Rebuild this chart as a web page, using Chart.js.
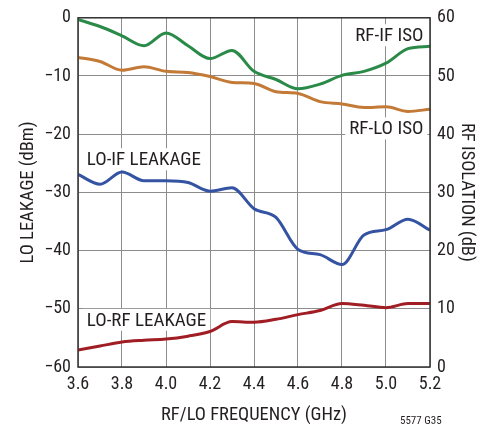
<!DOCTYPE html>
<html>
<head>
<meta charset="utf-8">
<script src="https://cdn.jsdelivr.net/npm/chart.js@4.4.1/dist/chart.umd.min.js"></script>
<style>
html,body{margin:0;padding:0;background:#fff;}
#wrap{width:498px;height:429px;position:relative;}
</style>
</head>
<body>
<div id="wrap"><canvas id="c" width="498" height="429"></canvas></div>
<script>
// Data (frequency in GHz)
const freqGHz = [3.6,3.7,3.8,3.9,4.0,4.1,4.2,4.3,4.4,4.5,4.6,4.7,4.8,4.9,5.0,5.1,5.2];
// RF isolation (dB), right axis
const rfIfIso = [59.7,58.5,56.9,55.2,57.4,55.2,53.0,54.4,50.8,49.4,47.8,48.6,50.1,50.8,52.2,54.7,55.1];
const rfLoIso = [53.2,52.5,51.0,51.6,50.8,50.6,49.9,48.9,48.7,47.3,47.0,45.6,45.2,44.6,44.7,43.9,44.3];
// LO leakage (dBm), left axis
const loIfLeak = [-26.9,-28.6,-26.5,-28.0,-28.0,-28.3,-29.8,-29.2,-32.8,-34.3,-39.8,-40.7,-42.4,-37.3,-36.4,-34.6,-36.5];
const loRfLeak = [-57.1,-56.4,-55.7,-55.4,-55.2,-54.7,-53.9,-52.2,-52.3,-51.8,-51.0,-50.3,-49.1,-49.4,-49.8,-49.1,-49.1];
const leftTicks = [-60,-50,-40,-30,-20,-10,0];
const rightTicks = [0,10,20,30,40,50,60];
const xTicks = [3.6,3.8,4.0,4.2,4.4,4.6,4.8,5.0,5.2];

const FONT = "'Liberation Sans Narrow','Roboto Condensed','DejaVu Sans Condensed','Liberation Sans',Arial,sans-serif";
const TXT = '#231f20';
const GRID = '#8c8c8c';

function pts(ys){ return freqGHz.map((f,i)=>({x:f,y:ys[i]})); }

const labelPlugin = {
  id:'labels',
  beforeDatasetsDraw(chart){
    const ctx = chart.ctx;
    const xs = chart.scales.x, yl = chart.scales.yL, yr = chart.scales.yR;
    const items = [
      {t:'RF-IF ISO', x:xs.getPixelForValue(5.17), y:yr.getPixelForValue(57.0), align:'right'},
      {t:'RF-LO ISO', x:xs.getPixelForValue(5.17), y:yl.getPixelForValue(-19.0), align:'right'},
      {t:'LO-IF LEAKAGE', x:xs.getPixelForValue(3.64), y:yl.getPixelForValue(-24.3), align:'left'},
      {t:'LO-RF LEAKAGE', x:xs.getPixelForValue(3.64), y:yl.getPixelForValue(-51.9), align:'left'}
    ];
    ctx.save();
    ctx.font = '19px ' + FONT;
    ctx.textBaseline = 'middle';
    items.forEach(it=>{
      const w = ctx.measureText(it.t).width;
      const x0 = it.align==='right' ? it.x - w : it.x;
      ctx.fillStyle = '#fff';
      ctx.fillRect(x0-4, it.y-11, w+8, 22);
      ctx.fillStyle = TXT;
      ctx.textAlign = it.align;
      ctx.fillText(it.t, it.x, it.y+1);
    });
    ctx.restore();
  },
  afterDraw(chart){
    const ctx = chart.ctx, a = chart.chartArea;
    ctx.save();
    ctx.strokeStyle = '#333';
    ctx.lineWidth = 1.5;
    ctx.strokeRect(a.left, a.top, a.right-a.left, a.bottom-a.top);
    ctx.font = '11px ' + FONT;
    ctx.fillStyle = TXT;
    ctx.textAlign = 'left';
    ctx.textBaseline = 'middle';
    ctx.fillText('5577 G35', 400, 421);
    ctx.restore();
  }
};

new Chart(document.getElementById('c'), {
  type:'line',
  data:{
    datasets:[
      {label:'RF-IF ISO', data:pts(rfIfIso), yAxisID:'yR', borderColor:'#2a8a48'},
      {label:'RF-LO ISO', data:pts(rfLoIso), yAxisID:'yR', borderColor:'#c27a36'},
      {label:'LO-IF LEAKAGE', data:pts(loIfLeak), yAxisID:'yL', borderColor:'#3553a3'},
      {label:'LO-RF LEAKAGE', data:pts(loRfLeak), yAxisID:'yL', borderColor:'#a11d24'}
    ].map(d=>Object.assign(d,{borderWidth:3,pointRadius:0,fill:false,cubicInterpolationMode:'monotone'}))
  },
  options:{
    responsive:false,
    animation:false,
    events:[],
    layout:{padding:{top:15,left:0,right:0,bottom:0}},
    plugins:{legend:{display:false},tooltip:{enabled:false}},
    scales:{
      x:{
        type:'linear', min:3.6, max:5.2,
        afterBuildTicks(s){ s.ticks = xTicks.map(v=>({value:v})); },
        afterFit(s){ s.height = 62; },
        ticks:{color:TXT, font:{family:FONT,size:18}, padding:7, maxRotation:0, callback:v=>v.toFixed(1)},
        grid:{color:GRID, lineWidth:1, drawTicks:false},
        border:{display:false},
        title:{display:true, text:'RF/LO FREQUENCY (GHz)', color:TXT, font:{family:FONT,size:18.5}, padding:{top:0,bottom:3}}
      },
      yL:{
        type:'linear', position:'left', min:-60, max:0,
        afterBuildTicks(s){ s.ticks = leftTicks.map(v=>({value:v})); },
        afterFit(s){ s.width = 78; },
        ticks:{color:TXT, font:{family:FONT,size:18}, padding:7, callback:v=>(v<0?'\u2212'+Math.abs(v):String(v))},
        grid:{color:GRID, lineWidth:1, drawTicks:false},
        border:{display:false},
        title:{display:true, text:'LO LEAKAGE (dBm)', color:TXT, font:{family:FONT,size:18.5}, padding:{top:17,bottom:0}}
      },
      yR:{
        type:'linear', position:'right', min:0, max:60,
        afterBuildTicks(s){ s.ticks = rightTicks.map(v=>({value:v})); },
        afterFit(s){ s.width = 68; },
        ticks:{color:TXT, font:{family:FONT,size:18}, padding:7},
        grid:{drawOnChartArea:false, drawTicks:false},
        border:{display:false},
        title:{display:true, text:'RF ISOLATION (dB)', color:TXT, font:{family:FONT,size:18.5}, padding:{top:20,bottom:0}}
      }
    }
  },
  plugins:[labelPlugin]
});
</script>
</body>
</html>
